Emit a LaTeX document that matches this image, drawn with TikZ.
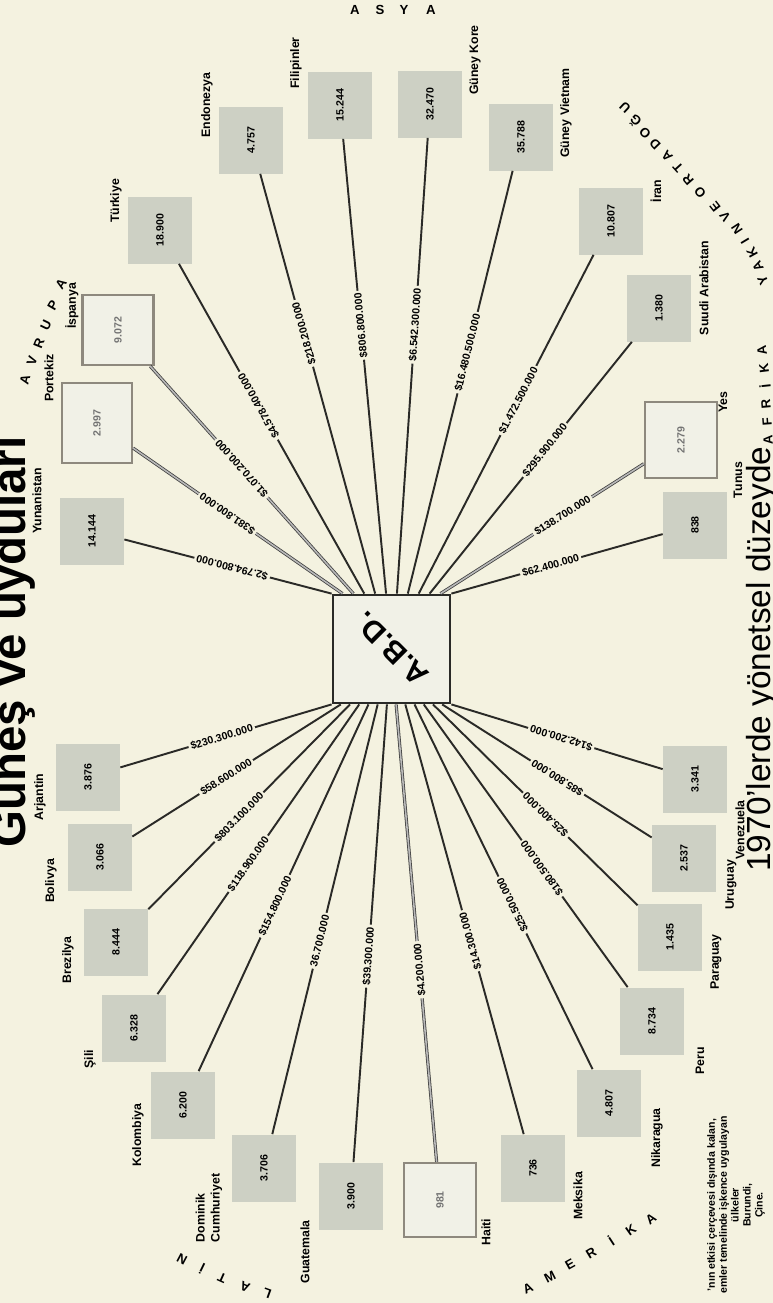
\documentclass[tikz,border=0pt]{standalone}
\usepackage{fontspec}
\setmainfont{Liberation Sans}
\usepackage{graphicx}
\usetikzlibrary{calc}
\definecolor{bgc}{HTML}{F4F2E0}
\definecolor{boxg}{HTML}{CDD0C4}
\definecolor{lnc}{HTML}{2A2A27}
\definecolor{obc}{HTML}{8E897E}
\definecolor{ofc}{HTML}{F1F1E7}
\newcommand{\vlab}[1]{\rotatebox{90}{#1}}
\tikzset{
 cbox/.style={fill=boxg, minimum width=1.28cm, minimum height=1.34cm, inner sep=0pt, font=\fontsize{6}{7}\selectfont\bfseries},
 obox/.style={fill=ofc, draw=obc, line width=1.3pt, inner sep=0pt, font=\fontsize{6}{7}\selectfont\bfseries, text=black!55},
 clab/.style={rotate=90, inner sep=0pt, font=\fontsize{7}{8.5}\selectfont\bfseries},
 conn/.style={draw=lnc, line width=1.1pt},
 oconn/.style={draw=black!75, line width=0.45pt, double=gray!55, double distance=0.9pt},
 amt/.style={sloped, allow upside down, fill=bgc, inner sep=1.3pt, font=\fontsize{6}{7}\selectfont\bfseries},
 arcl/.style={inner sep=0pt, font=\fontsize{7.5}{8}\selectfont\bfseries},
}
\begin{document}
\begin{tikzpicture}[x=0.02cm, y=-0.02cm]
\useasboundingbox (0,0) rectangle (773,1303);
\clip (0,0) rectangle (773,1303);
\fill[bgc] (0,0) rectangle (773,1303);

% centre
\node[draw=lnc, line width=1.6pt, fill=ofc, minimum width=2.34cm, minimum height=2.16cm, inner sep=0pt, font=\fontsize{17}{18}\selectfont\bfseries] (abd) at (391.5,649) {\rotatebox{135}{A.B.D.}};
\foreach \i in {1,...,12} \coordinate (t\i) at ($(abd.north west)!{(\i-1)/11}!(abd.north east)$);
\foreach \i in {1,...,14} \coordinate (b\i) at ($(abd.south west)!{(\i-1)/13}!(abd.south east)$);

% top group boxes
\node[cbox] (yun) at (92,531) {\vlab{14.144}};
\node[obox, minimum width=1.4cm, minimum height=1.6cm] (por) at (97,423) {\vlab{2.997}};
\node[obox, minimum width=1.42cm, minimum height=1.4cm] (isp) at (118,330) {\vlab{9.072}};
\node[cbox] (tur) at (160,230) {\vlab{18.900}};
\node[cbox] (endo) at (251,140) {\vlab{4.757}};
\node[cbox] (fil) at (340,105) {\vlab{15.244}};
\node[cbox] (gko) at (430,104) {\vlab{32.470}};
\node[cbox] (gvi) at (521,137) {\vlab{35.788}};
\node[cbox] (ira) at (611,221) {\vlab{10.807}};
\node[cbox] (suu) at (659,308) {\vlab{1.380}};
\node[obox, minimum width=1.44cm, minimum height=1.52cm] (yem) at (681,440) {\vlab{2.279}};
\node[cbox] (tun) at (695,525) {\vlab{838}};

% bottom group boxes
\node[cbox] (arj) at (88,777) {\vlab{3.876}};
\node[cbox] (bol) at (100,857) {\vlab{3.066}};
\node[cbox] (bre) at (116,942) {\vlab{8.444}};
\node[cbox] (sil) at (134,1028) {\vlab{6.328}};
\node[cbox] (kol) at (183,1105) {\vlab{6.200}};
\node[cbox] (dom) at (264,1168) {\vlab{3.706}};
\node[cbox] (gua) at (351,1196) {\vlab{3.900}};
\node[obox, minimum width=1.44cm, minimum height=1.48cm] (hai) at (440,1200) {\vlab{981}};
\node[cbox] (mek) at (533,1168) {\vlab{736}};
\node[cbox] (nik) at (609,1103) {\vlab{4.807}};
\node[cbox] (per) at (652,1021) {\vlab{8.734}};
\node[cbox] (par) at (670,937) {\vlab{1.435}};
\node[cbox] (uru) at (684,858) {\vlab{2.537}};
\node[cbox] (ven) at (695,779) {\vlab{3.341}};

% country labels
\node[clab] (yunL) at (37,501) {Yunanistan};
\node[clab] (porL) at (49,378) {Portekiz};
\node[clab] (ispL) at (72,306) {İspanya};
\node[clab] (turL) at (116,201) {Türkiye};
\node[clab] (endL) at (207,105) {Endonezya};
\node[clab] (filL) at (296,63) {Filipinler};
\node[clab] (gkoL) at (475,60) {Güney Kore};
\node[clab] (gviL) at (566,113) {Güney Vietnam};
\node[clab] (iraL) at (656,191) {İran};
\node[clab] (suuL) at (704,288) {Suudi Arabistan};
\node[clab] (yemL) at (723,402) {Yes};
\node[clab] (tunL) at (738,480) {Tunus};
\node[clab] (arjL) at (40,797) {Arjantin};
\node[clab] (bolL) at (51,881) {Bolivya};
\node[clab] (breL) at (68,960) {Brezilya};
\node[clab] (silL) at (90,1059) {Şili};
\node[clab] (kolL) at (138,1135) {Kolombiya};
\node[clab, align=left] (domL) at (209,1208) {Dominik\\Cumhuriyet};
\node[clab] (guaL) at (305,1252) {Guatemala};
\node[clab] (haiL) at (486,1232) {Haiti};
\node[clab] (mekL) at (578,1196) {Meksika};
\node[clab] (nikL) at (657,1138) {Nikaragua};
\node[clab] (perL) at (700,1061) {Peru};
\node[clab] (parL) at (716,962) {Paraguay};
\node[clab] (uruL) at (731,885) {Uruguay};
\node[clab] (venL) at (740,830) {Venezuela};

% top connectors (drawn from A.B.D. outward)
\draw[conn] (t1) -- node[amt, pos=0.48] {\$2.794.800.000} (yun);
\draw[oconn] (t2) -- node[amt, pos=0.55] {\$381.800.000} (por);
\draw[oconn] (t3) -- node[amt, pos=0.55] {\$1.070.200.000} (isp);
\draw[conn] (t4) -- node[amt, pos=0.57] {\$4.578.400.000} (tur);
\draw[conn] (t5) -- node[amt, pos=0.62] {\$218.200.000} (endo);
\draw[conn] (t6) -- node[amt, pos=0.59] {\$806.800.000} (fil);
\draw[conn] (t7) -- node[amt, pos=0.59] {\$6.542.300.000} (gko);
\draw[conn] (t8) -- node[amt, pos=0.57] {\$16.480.500.000} (gvi);
\draw[conn] (t9) -- node[amt, pos=0.57] {\$1.472.500.000} (ira);
\draw[conn] (t10) -- node[amt, pos=0.57] {\$295.900.000} (suu);
\draw[oconn] (t11) -- node[amt, pos=0.6] {\$138.700.000} (yem);
\draw[conn] (t12) -- node[amt, pos=0.47] {\$62.400.000} (tun);

% bottom connectors (drawn from country toward A.B.D.)
\draw[conn] (arj) -- node[amt, pos=0.48] {\$230.300.000} (b1);
\draw[conn] (bol) -- node[amt, pos=0.45] {\$58.600.000} (b2);
\draw[conn] (bre) -- node[amt, pos=0.45] {\$803.100.000} (b3);
\draw[conn] (sil) -- node[amt, pos=0.45] {\$118.900.000} (b4);
\draw[conn] (kol) -- node[amt, pos=0.45] {\$154.800.000} (b5);
\draw[conn] (dom) -- node[amt, pos=0.45] {36.700.000} (b6);
\draw[conn] (gua) -- node[amt, pos=0.45] {\$39.300.000} (b7);
\draw[oconn] (hai) -- node[amt, pos=0.42] {\$4.200.000} (b8);
\draw[conn] (mek) -- node[amt, pos=0.45] {\$14.300.000} (b9);
\draw[conn] (nik) -- node[amt, pos=0.45] {\$25.500.000} (b10);
\draw[conn] (per) -- node[amt, pos=0.42] {\$180.500.000} (b11);
\draw[conn] (par) -- node[amt, pos=0.45] {\$25.400.000} (b12);
\draw[conn] (uru) -- node[amt, pos=0.45] {\$85.800.000} (b13);
\draw[conn] (ven) -- node[amt, pos=0.48] {\$142.200.000} (b14);

% region names along the circle
\foreach \x/\y/\l [count=\k] in {355/10/A,380/10/S,404/10/Y,431/10/A}
  \node[arcl] (asya\k) at (\x,\y) {\l};
\foreach \x/\y/\r/\l [count=\k] in {25/380/75/A,32/361/71/V,39/343/68/R,46/325/64/U,53/305/60/P,61/284/56/A}
  \node[arcl, rotate=\r] (avr\k) at (\x,\y) {\l};
\foreach \x/\y/\r/\l [count=\k] in {763/280/115/Y,758/266/117/A,752/253/119/K,745/241/121/I,737/229/123/N,725/217/126/V,715/207/128/E,700/192/130/O,688/180/131/R,678/168/132/T,667/156/133/A,655/144/134/D,645/133/135/O,635/121/136/Ğ,625/108/137/U}
  \node[arcl, rotate=\r] (yak\k) at (\x,\y) {\l};
\foreach \x/\y/\r/\l [count=\k] in {768/440/93/A,767/422/94/F,766/404/95/R,765/386/96/İ,764/368/97/K,762/350/98/A}
  \node[arcl, rotate=\r] (afr\k) at (\x,\y) {\l};
\foreach \x/\y/\r/\l [count=\k] in {267/1293/160/L,245/1287/158/A,222/1278/156/T,202/1269/154/İ,182/1259/152/N}
  \node[arcl, rotate=\r] (lat\k) at (\x,\y) {\l};
\foreach \x/\y/\r/\l [count=\k] in {528/1288/25/A,550/1277/27/M,570/1264/29/E,591/1253/31/R,611/1241/33/İ,631/1230/35/K,651/1219/37/A}
  \node[arcl, rotate=\r] (ame\k) at (\x,\y) {\l};

% titles
\node[rotate=90, anchor=base west, inner sep=0pt, font=\fontsize{27}{30}\selectfont\bfseries] (title) at (26,848) {Güneş ve uyduları};
\node[rotate=90, anchor=base west, inner sep=0pt, font=\fontsize{19}{22}\selectfont] (subtitle) at (770,872) {1970'lerde yönetsel düzeyde};

% footnote
\node[rotate=90, align=center, inner sep=0pt, font=\fontsize{6}{6.8}\selectfont\bfseries] (note) at (736,1205) {'nın etkisi çerçevesi dışında kalan,\\emler temelinde işkence uygulayan\\ülkeler\\Burundi,\\Çine.};
\end{tikzpicture}
\end{document}
